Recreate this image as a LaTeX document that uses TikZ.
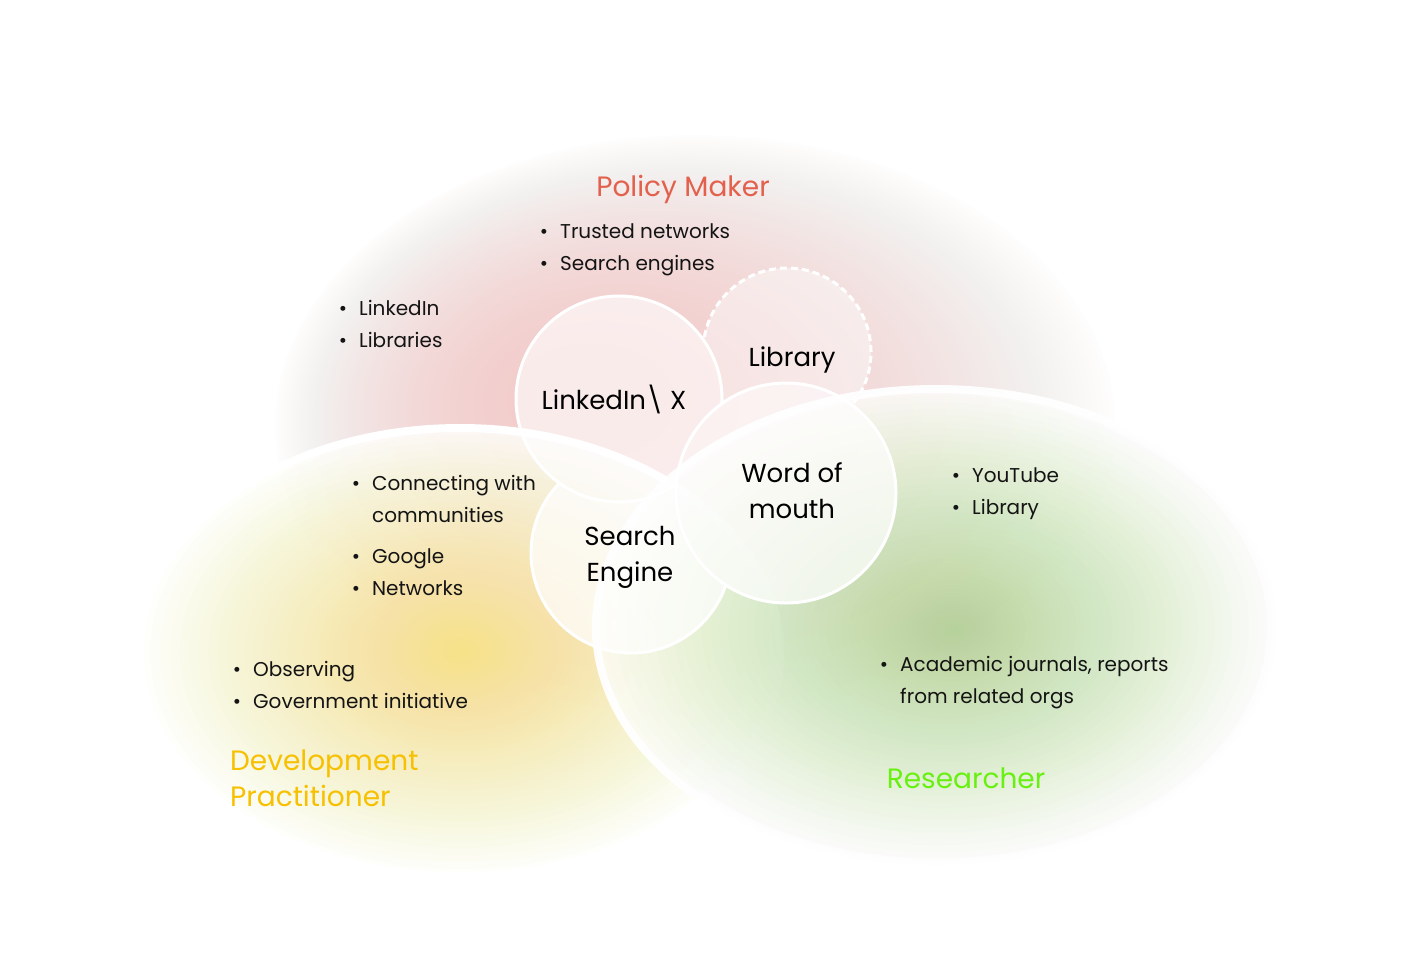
\documentclass[tikz,border=0pt]{standalone}
\usepackage{fontspec}
\setmainfont{Poppins}
\definecolor{pmred}{RGB}{226,96,76}
\definecolor{dpyellow}{RGB}{247,192,0}
\definecolor{rsgreen}{RGB}{104,240,16}
\definecolor{pinkblob}{RGB}{242,168,166}
\definecolor{yellowblob}{RGB}{246,226,110}
\definecolor{greenblob}{RGB}{168,210,128}
\definecolor{inktext}{RGB}{20,20,20}
\newcommand{\bul}{\llap{•\hspace{12pt}}}
\tikzset{
  listtxt/.style={anchor=base west, inner sep=0pt, align=left, text=inktext, font=\fontsize{20}{32}\selectfont},
  titletxt/.style={inner sep=0pt, font=\fontsize{28}{36}\selectfont},
  bubtxt/.style={anchor=base, inner sep=0pt, align=center, text=black, font=\fontsize{26}{36}\selectfont},
  bubble/.style={circle, draw=white, line width=3pt, fill=white, fill opacity=0.62, draw opacity=1, inner sep=0pt},
  ring/.style={draw=white, line width=8pt}
}
\begin{document}
\begin{tikzpicture}[x=1pt,y=-1pt]
\fill[white] (0,0) rectangle (1423,977);
\useasboundingbox (0,0) rectangle (1423,977);
% Policy maker blob (plateau with soft edge, core shifted left)
\foreach \i in {1,...,50}{
  \pgfmathsetmacro{\f}{sqrt(\i/50)}
  \fill[pinkblob, fill opacity=0.012] ({565+130*\f},{395+30*\f}) ellipse [x radius={420pt*\f}, y radius={290pt*\f}];
}
% Development practitioner blob
\fill[white, fill opacity=0.85] (460,652) ellipse [x radius=320pt, y radius=224pt];
\foreach \i in {1,...,50}{
  \pgfmathsetmacro{\f}{(\i/50)^1.6}
  \fill[yellowblob, fill opacity=0.028] (460,652) ellipse [x radius={320pt*\f}, y radius={224pt*\f}];
}
\draw[ring] (460,652) ellipse [x radius=320pt, y radius=224pt];
% Researcher blob
\fill[white, fill opacity=0.78] (936,627) ellipse [x radius=340pt, y radius=238pt];
\foreach \i in {1,...,50}{
  \pgfmathsetmacro{\f}{(\i/50)^1.4}
  \fill[greenblob, fill opacity=0.024] ({955-19*\f},{630-3*\f}) ellipse [x radius={340pt*\f}, y radius={238pt*\f}];
}
\draw[ring, draw opacity=0.95] (936,627) ellipse [x radius=340pt, y radius=238pt];
% bubbles, each clipped outside the bubbles lying on top of it
\begin{scope}[even odd rule]
  \clip (0,0) rectangle (1423,977) (619,399) circle (103pt);
  \begin{scope}[even odd rule]
    \clip (0,0) rectangle (1423,977) (786,493) circle (110pt);
    \node[bubble, minimum size=200pt, fill opacity=0.72] (seng) at (631,553) {};
    \node[bubble, minimum size=168pt, dash pattern=on 7pt off 4pt, fill opacity=0.45] (lib) at (787,352) {};
  \end{scope}
\end{scope}
\begin{scope}[even odd rule]
  \clip (0,0) rectangle (1423,977) (786,493) circle (110pt);
  \node[bubble, minimum size=206pt] (lnk) at (619,399) {};
\end{scope}
\node[bubble, minimum size=220pt, fill opacity=0.72] (wom) at (786,493) {};
\node[bubtxt] (sengt) at (630,581) {Search\\Engine};
\node[bubtxt] (libt) at (792,366) {Library};
\node[bubtxt] (lnkt) at (614,409) {LinkedIn\textbackslash{} X};
\node[bubtxt] (womt) at (792,518) {Word of\\mouth};
% titles
\node[titletxt, text=pmred, anchor=base] (pmt) at (683,196) {Policy Maker};
\node[titletxt, text=dpyellow, anchor=base west, align=left] (dpt) at (230,806) {Development\\Practitioner};
\node[titletxt, text=rsgreen, anchor=base] (rst) at (966,788) {Researcher};
% lists
\node[listtxt] (pm1) at (560,270) {\bul Trusted networks\\\bul Search engines};
\node[listtxt] (pm2) at (359,347) {\bul LinkedIn\\\bul Libraries};
\node[listtxt] (dp1) at (372,595) {\bul Connecting with\\communities\\[9pt]\bul Google\\\bul Networks};
\node[listtxt] (dp2) at (253,708) {\bul Observing\\\bul Government initiative};
\node[listtxt] (rs1) at (972,514) {\bul YouTube\\\bul Library};
\node[listtxt] (rs2) at (900,703) {\bul Academic journals, reports\\from related orgs};
\end{tikzpicture}
\end{document}
